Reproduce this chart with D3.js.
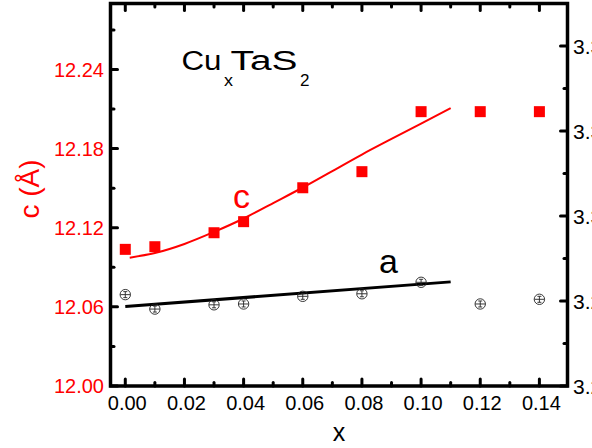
<!DOCTYPE html>
<html><head><meta charset="utf-8">
<script src="https://cdn.jsdelivr.net/npm/d3@7"></script>
<style>html,body{margin:0;padding:0;background:#fff;}svg{display:block;font-family:"Liberation Sans",Arial,sans-serif;}</style>
</head><body>
<svg id="chart" width="592" height="448"></svg>
<script>
// ---- data ----
const xCat = [0.00, 0.01, 0.03, 0.04, 0.06, 0.08, 0.10, 0.12, 0.14];
const cValues = [12.1036, 12.1056, 12.1162, 12.1246, 12.1503, 12.1625, 12.2080, 12.2080, 12.2080];
const aValues = [3.2815, 3.2781, 3.2791, 3.2793, 3.2811, 3.2817, 3.2844, 3.2793, 3.2804];
const cFitX = [0.0015, 0.01, 0.02, 0.03, 0.04, 0.05, 0.06, 0.07, 0.08, 0.09, 0.10, 0.11];
const cFitY = [12.0973, 12.1008, 12.1077, 12.1168, 12.1270, 12.1387, 12.1505, 12.1630, 12.1755, 12.1873, 12.1990, 12.2106];
const aFitX = [0.0, 0.11];
const aFitY = [3.2787, 3.2845];
const xTicks = [0.00, 0.02, 0.04, 0.06, 0.08, 0.10, 0.12, 0.14];
const xMinor = [0.01, 0.03, 0.05, 0.07, 0.09, 0.11, 0.13];
const cTicks = [12.00, 12.06, 12.12, 12.18, 12.24];
const cMinor = [12.03, 12.09, 12.15, 12.21, 12.27];
const aTicks = [3.26, 3.28, 3.30, 3.32, 3.34];
const aMinor = [3.27, 3.29, 3.31, 3.33];
const titleParts = ["Cu", "x", "TaS", "2"];

const svg = d3.select("#chart");
const L = 110.5, R = 567.5, T = 3.5, B = 386;
const x = d3.scaleLinear().domain([-0.005, 0.1495]).range([L, R]);
const yC = d3.scaleLinear().domain([12.00, 12.29]).range([B, T]);
const yA = d3.scaleLinear().domain([3.26, 3.35]).range([B, T]);
const RED = "#ff0000";

// ticks (inward)
const tk = svg.append("g").attr("stroke", "#000").attr("stroke-width", 3).attr("stroke-linecap", "round");
function vt(vals, len) {
  vals.forEach(v => {
    tk.append("line").attr("x1", x(v)).attr("x2", x(v)).attr("y1", B).attr("y2", B - len);
    tk.append("line").attr("x1", x(v)).attr("x2", x(v)).attr("y1", T).attr("y2", T + len);
  });
}
vt(xTicks, 7); vt(xMinor, 3.5);
cTicks.forEach(v => tk.append("line").attr("x1", L).attr("x2", L + 7).attr("y1", yC(v)).attr("y2", yC(v)));
cMinor.forEach(v => tk.append("line").attr("x1", L).attr("x2", L + 3.5).attr("y1", yC(v)).attr("y2", yC(v)));
aTicks.forEach(v => tk.append("line").attr("x1", R).attr("x2", R - 7).attr("y1", yA(v)).attr("y2", yA(v)));
aMinor.forEach(v => tk.append("line").attr("x1", R).attr("x2", R - 3.5).attr("y1", yA(v)).attr("y2", yA(v)));

// frame
svg.append("rect").attr("x", L).attr("y", T).attr("width", R - L).attr("height", B - T)
  .attr("fill", "none").attr("stroke", "#000").attr("stroke-width", 3.5);

// tick labels
svg.append("g").selectAll("text").data(xTicks).join("text")
  .attr("x", d => x(d) + 2).attr("y", 410).attr("text-anchor", "middle")
  .attr("font-size", 20).attr("fill", "#000").text(d => d.toFixed(2));
svg.append("g").selectAll("text").data(cTicks).join("text")
  .attr("x", 104).attr("y", d => yC(d) + 7.3).attr("text-anchor", "end")
  .attr("font-size", 20).attr("fill", RED).text(d => d.toFixed(2));
svg.append("g").selectAll("text").data(aTicks).join("text")
  .attr("x", 573).attr("y", d => yA(d) + 7.6).attr("text-anchor", "start")
  .attr("font-size", 21).attr("fill", "#000").text(d => d.toFixed(2));

// axis titles
svg.append("text").attr("x", 339).attr("y", 441).attr("text-anchor", "middle")
  .attr("font-size", 25).attr("fill", "#000").text("x");
svg.append("text").attr("transform", "translate(39,189) rotate(-90)").attr("text-anchor", "middle")
  .attr("font-size", 28).attr("fill", RED).text("c (Å)");

// fit lines
const lineC = d3.line().x((d, i) => x(cFitX[i])).y(d => yC(d)).curve(d3.curveMonotoneX);
svg.append("path").attr("d", lineC(cFitY)).attr("fill", "none").attr("stroke", RED).attr("stroke-width", 2);
const lineA = d3.line().x((d, i) => x(aFitX[i])).y(d => yA(d));
svg.append("path").attr("d", lineA(aFitY)).attr("fill", "none").attr("stroke", "#000").attr("stroke-width", 3);

// c markers
svg.append("g").selectAll("rect").data(xCat).join("rect")
  .attr("x", d => x(d) - 5.5).attr("y", (d, i) => yC(cValues[i]) - 5.5)
  .attr("width", 11).attr("height", 11).attr("fill", RED);

// a markers
const am = svg.append("g").attr("stroke", "#222").attr("stroke-width", 0.9).attr("fill", "none");
xCat.forEach((d, i) => {
  const cx = x(d), cy = yA(aValues[i]);
  am.append("circle").attr("cx", cx).attr("cy", cy).attr("r", 5.2);
  am.append("line").attr("x1", cx - 5).attr("x2", cx + 5).attr("y1", cy).attr("y2", cy);
  am.append("line").attr("x1", cx).attr("x2", cx).attr("y1", cy - 3).attr("y2", cy + 3);
  am.append("line").attr("x1", cx - 2).attr("x2", cx + 2).attr("y1", cy - 3).attr("y2", cy - 3);
  am.append("line").attr("x1", cx - 2).attr("x2", cx + 2).attr("y1", cy + 3).attr("y2", cy + 3);
});

// labels
svg.append("text").attr("x", 233).attr("y", 208).attr("font-size", 34).attr("fill", RED).text("c");
svg.append("text").attr("x", 379).attr("y", 273).attr("font-size", 34).attr("fill", "#000").text("a");

// title (pieces placed individually)
const tp = [
  {x: 181.5, y: 70, fs: 27, w: 40},
  {x: 224, y: 86, fs: 17, w: 9},
  {x: 230.5, y: 70, fs: 27, w: 67},
  {x: 300, y: 86, fs: 17, w: 9.5}
];
titleParts.forEach((s, i) => {
  svg.append("text").attr("x", tp[i].x).attr("y", tp[i].y).attr("font-size", tp[i].fs)
    .attr("fill", "#000").attr("textLength", tp[i].w).attr("lengthAdjust", "spacingAndGlyphs").text(s);
});
</script>
</body></html>
